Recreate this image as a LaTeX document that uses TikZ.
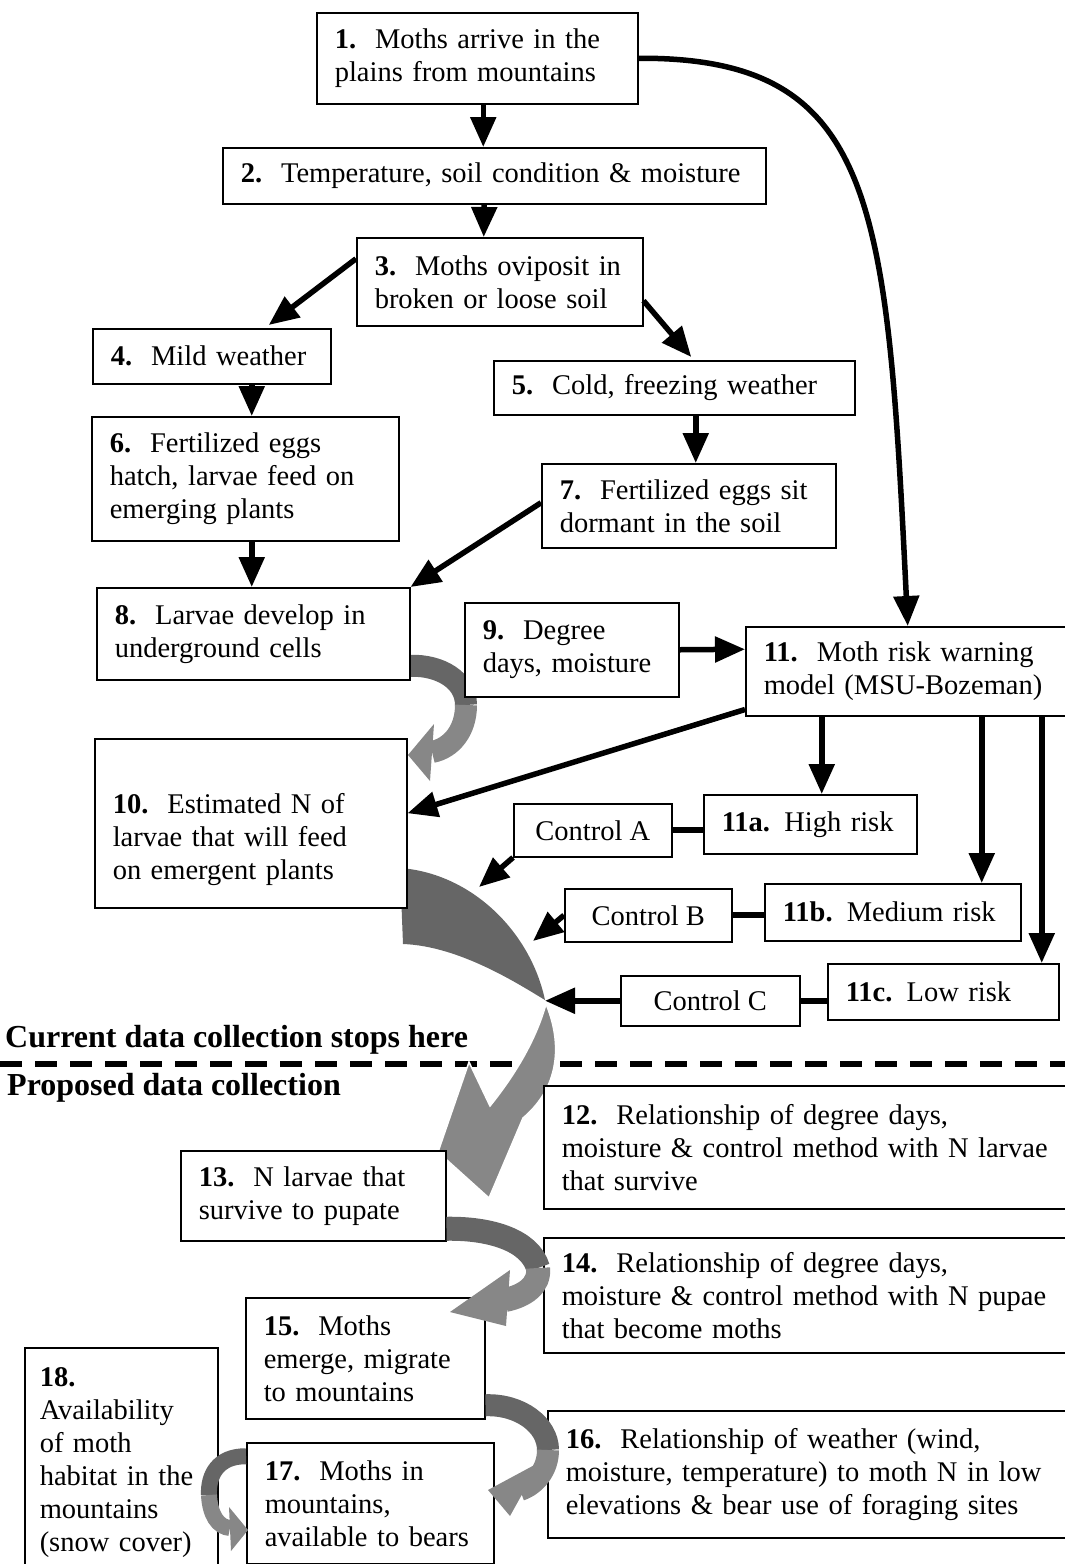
\documentclass[tikz,border=0pt]{standalone}
\usepackage{fontspec}
\setmainfont{Liberation Serif}
\usetikzlibrary{arrows.meta,backgrounds}
\definecolor{bandDark}{gray}{0.40}
\definecolor{bandLight}{gray}{0.53}

\begin{document}
\begin{tikzpicture}[x=1pt,y=-1pt,
  box/.style={draw, line width=1.5pt, fill=white, anchor=north west, align=left,
    inner xsep=18pt, inner ysep=0pt, font=\fontsize{28.5}{33}\selectfont},
  ctl/.style={box, align=center, inner xsep=0pt},
  head/.style={anchor=base west, inner sep=0pt, font=\fontsize{32}{36}\selectfont\bfseries},
  arr/.style={line width=5.5pt, -{Triangle[length=30pt,width=25pt]}},
  link/.style={line width=6pt},
  band/.style={line width=22pt}]
  \useasboundingbox (0,0) rectangle (1065,1564);

  % boxes, top part
  \node[box, text width=285pt, minimum height=91pt] (b1) at (316,12)
    {\textbf{1.}~~Moths arrive in the\\plains from mountains};
  \node[box, text width=507pt, minimum height=56pt] (b2) at (222,147)
    {\textbf{2.}~~Temperature, soil condition \& moisture};
  \node[box, text width=250pt, minimum height=88pt] (b3) at (356,237)
    {\textbf{3.}~~Moths oviposit in\\broken or loose soil};
  \node[box, text width=202pt, minimum height=55pt] (b4) at (92,328)
    {\textbf{4.}~~Mild weather};
  \node[box, text width=325pt, minimum height=54pt] (b5) at (493,360)
    {\textbf{5.}~~Cold, freezing weather};
  \node[box, text width=271pt, minimum height=124pt] (b6) at (91,416)
    {\textbf{6.}~~Fertilized eggs\\hatch, larvae feed on\\emerging plants};
  \node[box, text width=258pt, minimum height=84pt] (b7) at (541,463)
    {\textbf{7.}~~Fertilized eggs sit\\dormant in the soil};
  \node[box, text width=277pt, minimum height=92pt] (b8) at (96,587)
    {\textbf{8.}~~Larvae develop in\\underground cells};
  \node[box, text width=178pt, minimum height=94pt] (b9) at (464,602)
    {\textbf{9.}~~Degree\\days, moisture};
  \node[box, text width=304pt, minimum height=89pt] (b11) at (745,626)
    {\textbf{11.}~~Moth risk warning\\model (MSU-Bozeman)};
  \node[box, text width=276pt, minimum height=169pt] (b10) at (94,738)
    {\rule{0pt}{53pt}\textbf{10.}~~Estimated N of\\larvae that will feed\\on emergent plants};

  % risk levels and controls
  \node[box, text width=177pt, minimum height=59pt] (b11a) at (703,794)
    {\textbf{11a.} High risk};
  \node[box, text width=220pt, minimum height=57pt] (b11b) at (764,883)
    {\textbf{11b.} Medium risk};
  \node[box, text width=195pt, minimum height=56pt] (b11c) at (827,963)
    {\textbf{11c.} Low risk};
  \node[ctl, minimum width=158pt, minimum height=53pt] (cA) at (513,803) {Control A};
  \node[ctl, minimum width=167pt, minimum height=53pt] (cB) at (564,888) {Control B};
  \node[ctl, minimum width=179pt, minimum height=50pt] (cC) at (620,975) {Control C};

  % headings and cut line
  \node[head] (curhd) at (5,1047) {Current data collection stops here};
  \node[head] (prophd) at (7,1095) {Proposed data collection};
  \coordinate (cutL) at (0,1064);
  \coordinate (cutR) at (1065,1064);

  % boxes, proposed part
  \node[box, text width=504pt, minimum height=123pt] (b12) at (543,1085)
    {\textbf{12.}~~Relationship of degree days,\\moisture \& control method with N larvae\\that survive};
  \node[box, text width=229pt, minimum height=90pt] (b13) at (180,1150)
    {\textbf{13.}~~N larvae that\\survive to pupate};
  \node[box, text width=504pt, minimum height=115pt] (b14) at (543,1237)
    {\textbf{14.}~~Relationship of degree days,\\moisture \& control method with N pupae\\that become moths};
  \node[box, text width=203pt, minimum height=121pt] (b15) at (245,1297)
    {\textbf{15.}~~Moths\\emerge, migrate\\to mountains};
  \node[box, inner xsep=15pt, text width=163pt, minimum height=230pt] (b18) at (24,1347)
    {\textbf{18.}\\Availability\\of moth\\habitat in the\\mountains\\(snow cover)};
  \node[box, text width=504pt, minimum height=127pt] (b16) at (547,1410)
    {\textbf{16.}~~Relationship of weather (wind,\\moisture, temperature) to moth N in low\\elevations \& bear use of foraging sites};
  \node[box, text width=211pt, minimum height=121pt] (b17) at (246,1442)
    {\textbf{17.}~~Moths in\\mountains,\\available to bears};

  % black arrows
  \draw[arr] ([xshift=6pt]b1.south) -- ([xshift=-11pt]b2.north);
  \draw[arr] ([xshift=-10pt]b2.south) -- ([xshift=-16pt]b3.north);
  \draw[arr] ([yshift=23pt]b3.west) -- ([xshift=57pt,yshift=3pt]b4.north);
  \draw[arr] ([yshift=-19pt]b3.east) -- ([xshift=17pt,yshift=3pt]b5.north);
  \draw[arr] ([xshift=40pt]b4.south) -- ([xshift=6.5pt]b6.north);
  \draw[arr] ([xshift=21.5pt]b5.south) -- ([xshift=7pt]b7.north);
  \draw[arr] ([xshift=6.5pt]b6.south) -- ([xshift=-1.5pt]b8.north);
  \draw[arr] ([yshift=3pt]b7.west) -- (b8.north east);
  \draw[arr] (b9.east) -- ([yshift=22pt]b11.west);
  \draw[arr] (b1.east) .. controls (877,57) and (887,203) .. ([xshift=-8pt]b11.north);
  \draw[arr] ([yshift=7pt]b11.south west) -- ([yshift=10pt]b10.east);
  \draw[arr] ([xshift=-94pt]b11.south) -- ([xshift=11.5pt]b11a.north);
  \draw[arr] ([xshift=66pt]b11.south) -- ([xshift=89pt]b11b.north);
  \draw[arr] ([xshift=126pt]b11.south) -- ([xshift=98.5pt]b11c.north);
  \draw[link] (cA.east) -- (cA.east -| b11a.west);
  \draw[link] (cB.east) -- (cB.east -| b11b.west);
  \draw[link] (cC.east) -- (cC.east -| b11c.west);

  % controls act on the big arrow
  \coordinate (hitA) at (479,887);
  \coordinate (hitB) at (533,941);
  \coordinate (hitC) at (545,1000);
  \draw[arr] (cA.south west) -- (hitA);
  \draw[arr] (cB.west) -- (hitB);
  \draw[arr] (cC.west) -- (cC.west -| hitC);

  \begin{scope}[on background layer]
    \draw[line width=6pt, dash pattern=on 22pt off 13pt] (cutL) -- (cutR);
    % 8 -> 10
    \draw[band, draw=bandDark] ([yshift=-32pt]b8.east) .. controls (440,665) and (466,680) .. (466,705);
    \draw[band, draw=bandLight] (466,705) .. controls (466,730) and (452,748) .. (432,752);
    \fill[bandLight] (434,724) -- (408,755) -- (430,781) -- cycle;
    % 10 -> 13
    \fill[bandDark] (400,868) .. controls (470,873) and (530,930) .. (545,1000)
      .. controls (520,985) and (460,946) .. (403,944) -- cycle;
    \fill[bandLight, draw=white, line width=1.5pt] (546,1004) .. controls (561,1040) and (562,1085) .. (523,1118)
      -- (489,1198) -- (438,1152) -- (469,1062) -- (490,1106)
      .. controls (515,1075) and (536,1040) .. cycle;
  \end{scope}

  % 13 -> 15
  \draw[band, line width=24pt, draw=bandDark] ([yshift=-33pt]b13.east) .. controls (490,1228) and (530,1240) .. (538,1268);
  \draw[band, line width=24pt, draw=bandLight] (538,1268) .. controls (540,1285) and (525,1296) .. (505,1300);
  \fill[bandLight] (510,1270) -- (450,1312) -- (506,1326) -- cycle;
  % 15 -> 17
  \draw[band, draw=bandDark] ([yshift=-47pt]b15.east) .. controls (520,1404) and (548,1425) .. (548,1450);
  \draw[band, draw=bandLight] (548,1450) .. controls (548,1470) and (535,1485) .. (520,1490);
  \fill[bandLight] (540,1462) -- (488,1490) -- (510,1516) -- cycle;
  % 18 -> 17
  \draw[band, line width=16pt, draw=bandDark] ([yshift=47pt]b17.west) .. controls (218,1456) and (208,1475) .. (209,1495);
  \draw[band, line width=16pt, draw=bandLight] (209,1495) .. controls (210,1515) and (218,1527) .. (230,1528);
  \fill[bandLight] (229,1507) -- (248,1530) -- (231,1551) -- cycle;
\end{tikzpicture}
\end{document}
